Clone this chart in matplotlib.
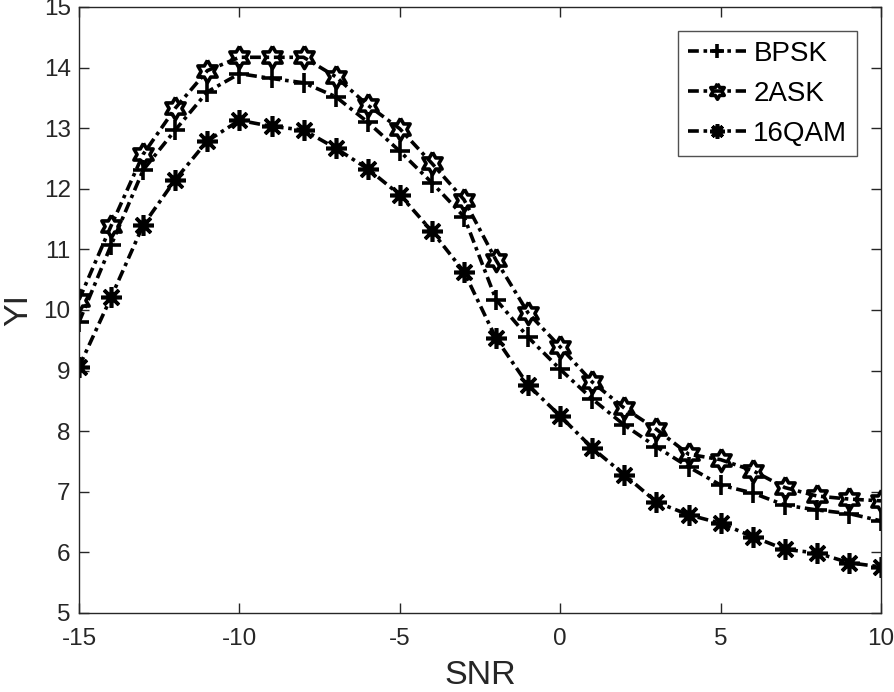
import numpy as np
import matplotlib
matplotlib.use('Agg')
import matplotlib.pyplot as plt

plt.rcParams['font.family'] = ['Liberation Sans', 'DejaVu Sans']
plt.rcParams['axes.unicode_minus'] = False

# SNR axis and YI values
snr = list(range(-15, 11))
yi_bpsk = [9.80, 11.07, 12.31, 12.97, 13.60, 13.90, 13.82, 13.75, 13.52, 13.10,
           12.62, 12.10, 11.54, 10.17, 9.55, 9.02, 8.53, 8.10, 7.74, 7.41,
           7.11, 6.98, 6.78, 6.70, 6.64, 6.52]
yi_2ask = [10.17, 11.39, 12.57, 13.33, 13.95, 14.17, 14.17, 14.17, 13.85, 13.38,
           12.99, 12.42, 11.82, 10.82, 9.95, 9.39, 8.81, 8.38, 8.03, 7.62,
           7.53, 7.35, 7.07, 6.93, 6.88, 6.85]
yi_16qam = [9.06, 10.21, 11.40, 12.15, 12.79, 13.13, 13.03, 12.97, 12.67, 12.33,
            11.90, 11.30, 10.63, 9.53, 8.76, 8.25, 7.72, 7.28, 6.83, 6.62,
            6.48, 6.26, 6.05, 5.99, 5.83, 5.76]

# hexagram (six pointed star) marker like MATLAB's 'h'
ang = np.pi / 2 + np.arange(12) * np.pi / 6
rad = np.where(np.arange(12) % 2 == 0, 1.0, 1 / np.sqrt(3))
hexagram = np.column_stack([rad * np.cos(ang), rad * np.sin(ang)])
hexagram = np.vstack([hexagram, hexagram[:1]])

fig = plt.figure(figsize=(8.94, 6.92), dpi=100)
ax = fig.add_axes([0.0884, 0.1142, 0.8971, 0.8757])

ls = (0, (3, 1.3, 1, 1.3))
lw = 2.6
ax.plot(snr, yi_bpsk, color='k', linestyle=ls, linewidth=lw, marker='+',
        markersize=15, markeredgewidth=2.6, label='BPSK')
ax.plot(snr, yi_2ask, color='k', linestyle=ls, linewidth=lw, marker=hexagram,
        markersize=16, markeredgewidth=2.6, markerfacecolor='none', label='2ASK')
ax.plot(snr, yi_16qam, color='k', linestyle=ls, linewidth=lw, marker=(8, 2, 0),
        markersize=15, markeredgewidth=2.6, label='16QAM')

ax.set_xlim(-15, 10)
ax.set_ylim(5, 15)
ax.set_xticks([-15, -10, -5, 0, 5, 10])
ax.set_yticks(range(5, 16))
ax.tick_params(direction='in', length=7, width=1, labelsize=17.5, colors='#262626',
               top=True, right=True)
ax.tick_params(axis='x', pad=11)
ax.tick_params(axis='y', pad=6)
for sp in ax.spines.values():
    sp.set_color('#262626')
    sp.set_linewidth(1)
ax.set_xlabel('SNR', fontsize=24.5, color='#262626', labelpad=7)
ax.set_ylabel('YI', fontsize=24.5, color='#262626', labelpad=7)

leg = ax.legend(loc='upper right', fontsize=20, frameon=True, fancybox=False,
                edgecolor='#262626', handlelength=2.1, handletextpad=0.25,
                borderpad=0.35, labelspacing=0.5, markerscale=0.7,
                borderaxespad=0, bbox_to_anchor=(0.97, 0.96))
leg.get_frame().set_linewidth(1)

fig.savefig('out.png', dpi=100)
